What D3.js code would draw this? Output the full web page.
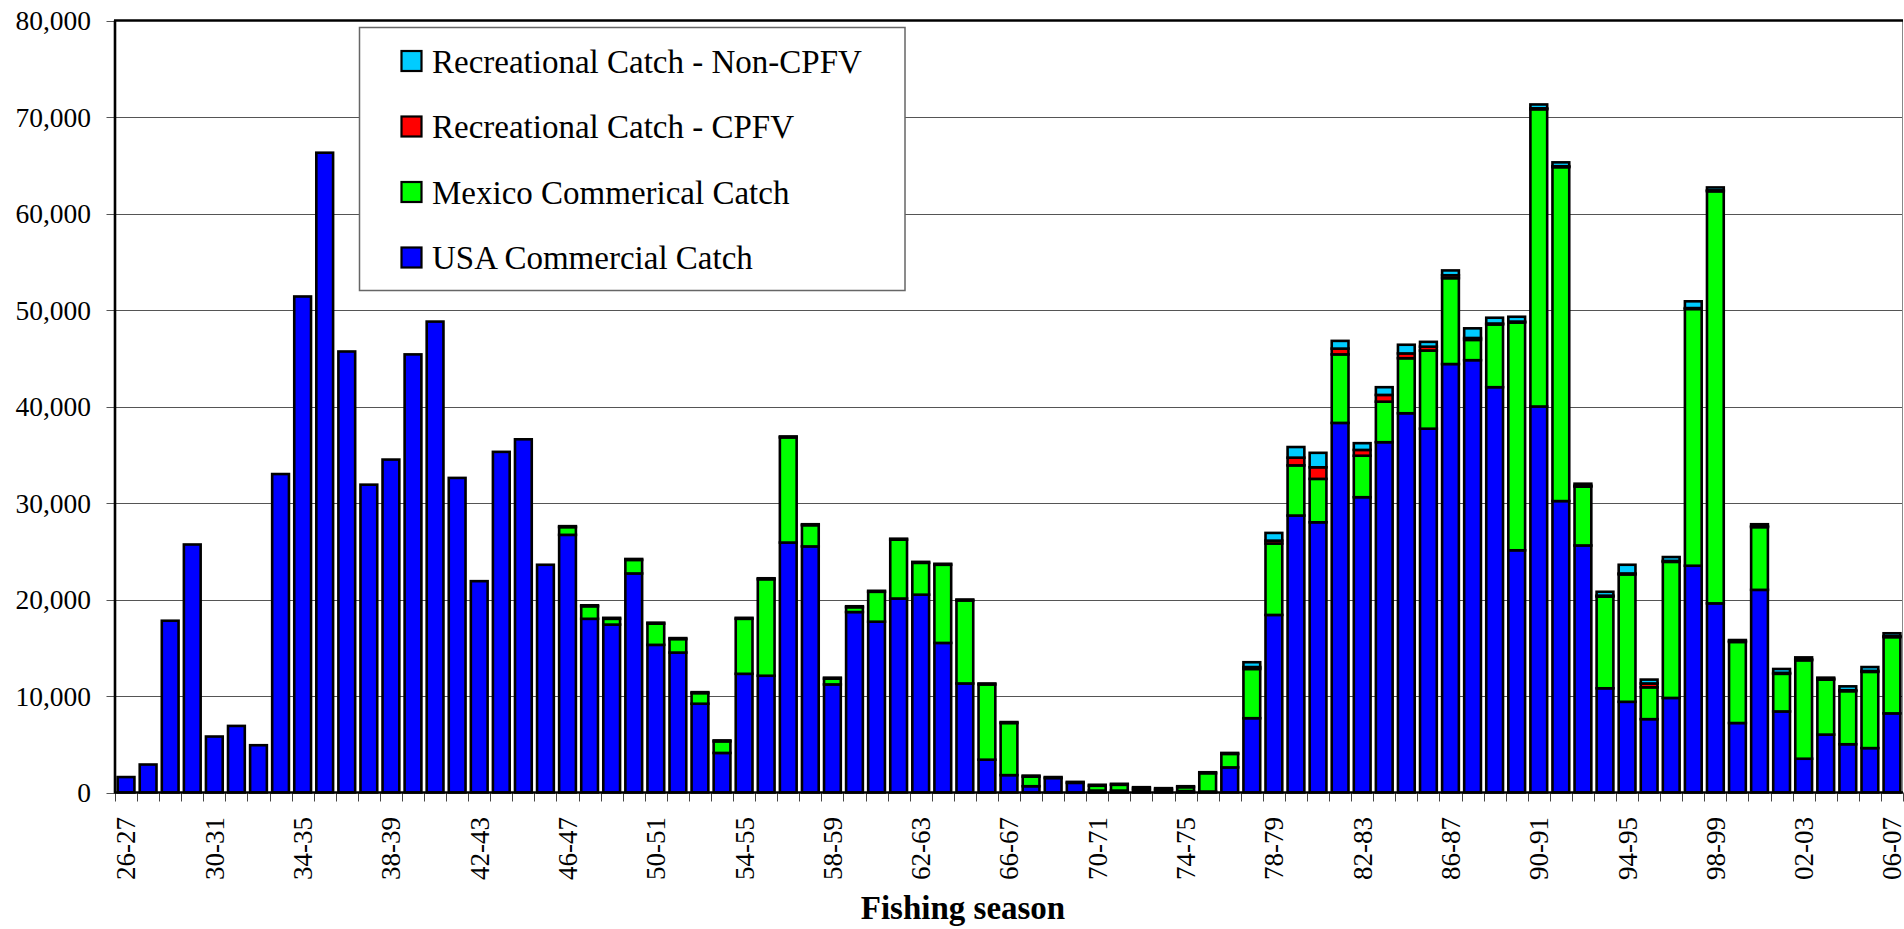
<!DOCTYPE html>
<html><head><meta charset="utf-8">
<script src="https://cdn.jsdelivr.net/npm/d3@7"></script>
</head><body style="margin:0">
<script>
// fishing seasons, 1926-27 to 2006-07
let seasons = ['26-27', '27-28', '28-29', '29-30', '30-31', '31-32', '32-33', '33-34', '34-35', '35-36',
    '36-37', '37-38', '38-39', '39-40', '40-41', '41-42', '42-43', '43-44', '44-45', '45-46',
    '46-47', '47-48', '48-49', '49-50', '50-51', '51-52', '52-53', '53-54', '54-55', '55-56',
    '56-57', '57-58', '58-59', '59-60', '60-61', '61-62', '62-63', '63-64', '64-65', '65-66',
    '66-67', '67-68', '68-69', '69-70', '70-71', '71-72', '72-73', '73-74', '74-75', '75-76',
    '76-77', '77-78', '78-79', '79-80', '80-81', '81-82', '82-83', '83-84', '84-85', '85-86',
    '86-87', '87-88', '88-89', '89-90', '90-91', '91-92', '92-93', '93-94', '94-95', '95-96',
    '96-97', '97-98', '98-99', '99-00', '00-01', '01-02', '02-03', '03-04', '04-05', '05-06', '06-07'];

let tickLabels = ['26-27', '30-31', '34-35', '38-39', '42-43', '46-47', '50-51', '54-55', '58-59', '62-63',
    '66-67', '70-71', '74-75', '78-79', '82-83', '86-87', '90-91', '94-95', '98-99', '02-03', '06-07'];

let yTicks = [0, 10000, 20000, 30000, 40000, 50000, 60000, 70000, 80000];

let usaCommercial = [1600, 2900, 17800, 25700, 5800, 6900, 4900, 33000, 51400, 66300,
    45700, 31900, 34500, 45400, 48800, 32600, 21900, 35300, 36600, 23600,
    26700, 18000, 17400, 22700, 15300, 14500, 9200, 4100, 12300, 12100,
    25900, 25500, 11200, 18700, 17700, 20100, 20500, 15500, 11300, 3400,
    1800, 650, 1500, 1000, 200, 200, 250, 200, 150, 100,
    2600, 7700, 18400, 28700, 28000, 38300, 30600, 36300, 39300, 37700,
    44400, 44800, 42000, 25100, 40000, 30200, 25600, 10800, 9400, 7600,
    9800, 23500, 19600, 7200, 21000, 8400, 3500, 6000, 5000, 4600, 8200];

let mexicoCommercial = [0, 0, 0, 0, 0, 0, 0, 0, 0, 0,
    0, 0, 0, 0, 0, 0, 0, 0, 0, 0,
    800, 1300, 600, 1400, 2200, 1400, 1100, 1200, 5700, 10000,
    10900, 2200, 600, 500, 3100, 6100, 3300, 8100, 8600, 7800,
    5400, 1000, 0, 0, 500, 600, 200, 150, 400, 1900,
    1400, 5100, 7400, 5200, 4500, 7100, 4300, 4200, 5700, 8100,
    8900, 2100, 6500, 23600, 30800, 34600, 6100, 9500, 13200, 3300,
    14100, 26600, 42700, 8400, 6500, 3900, 10200, 5700, 5500, 7900, 7900];

let recCPFV = [0, 0, 0, 0, 0, 0, 0, 0, 0, 0,
    0, 0, 0, 0, 0, 0, 0, 0, 0, 0,
    100, 100, 100, 100, 100, 100, 100, 100, 100, 100,
    100, 100, 100, 100, 100, 100, 100, 100, 100, 100,
    100, 100, 100, 100, 100, 100, 100, 100, 100, 100,
    100, 200, 300, 800, 1200, 600, 600, 700, 500, 400,
    300, 200, 100, 100, 100, 100, 100, 100, 100, 400,
    100, 100, 100, 100, 100, 100, 100, 100, 100, 100, 100];

let recNonCPFV = [0, 0, 0, 0, 0, 0, 0, 0, 0, 0,
    0, 0, 0, 0, 0, 0, 0, 0, 0, 0,
    0, 0, 0, 0, 0, 0, 0, 0, 0, 0,
    0, 0, 0, 0, 0, 0, 0, 0, 0, 0,
    0, 0, 0, 0, 0, 0, 0, 0, 0, 0,
    0, 500, 800, 1100, 1500, 800, 700, 800, 900, 500,
    500, 1000, 600, 500, 400, 400, 200, 400, 900, 400,
    400, 700, 300, 100, 200, 400, 200, 100, 400, 400, 300];

let keys = ['usa', 'mexico', 'cpfv', 'noncpfv'];
let legendKeys = ['noncpfv', 'cpfv', 'mexico', 'usa'];
let names = {
    noncpfv: 'Recreational Catch - Non-CPFV',
    cpfv: 'Recreational Catch - CPFV',
    mexico: 'Mexico Commerical Catch',
    usa: 'USA Commercial Catch'
};
let colors = {usa: '#0000ff', mexico: '#00ff00', cpfv: '#ff0000', noncpfv: '#00ccff'};

let plot = {left: 115, right: 1903, top: 20.5, bottom: 792.5};

let rows = seasons.map((s, i) => ({
    season: s,
    usa: usaCommercial[i],
    mexico: mexicoCommercial[i],
    cpfv: recCPFV[i],
    noncpfv: recNonCPFV[i]
}));

let svg = d3.select('body').append('svg').attr('width', 1904).attr('height', 929);

let x = d3.scaleBand()
    .domain(seasons)
    .range([plot.left, plot.right])
    .paddingInner(0.24)
    .paddingOuter(0.12);

let y = d3.scaleLinear()
    .domain([0, 80000])
    .range([plot.bottom, plot.top]);

// gridlines
svg.selectAll('.grid')
    .data(yTicks.filter(v => v > 0 && v < 80000))
    .enter()
    .append('line')
    .attr('x1', plot.left)
    .attr('x2', plot.right)
    .attr('y1', d => Math.round(y(d)) + 0.5)
    .attr('y2', d => Math.round(y(d)) + 0.5)
    .attr('stroke', '#555')
    .attr('stroke-width', 1);

// right border
svg.append('line')
    .attr('x1', plot.right - 0.5).attr('x2', plot.right - 0.5)
    .attr('y1', plot.top).attr('y2', plot.bottom)
    .attr('stroke', '#888');

// y axis ticks
svg.selectAll('.ytick')
    .data(yTicks)
    .enter()
    .append('line')
    .attr('x1', 106.5).attr('x2', plot.left)
    .attr('y1', d => Math.round(y(d)) + 0.5)
    .attr('y2', d => Math.round(y(d)) + 0.5)
    .attr('stroke', '#555');

// x ticks at category boundaries
let step = x.step();
svg.selectAll('.xtick')
    .data(d3.range(seasons.length + 1))
    .enter()
    .append('line')
    .attr('x1', i => Math.round(plot.left + i * step) + 0.5)
    .attr('x2', i => Math.round(plot.left + i * step) + 0.5)
    .attr('y1', plot.bottom)
    .attr('y2', 801.5)
    .attr('stroke', '#444');

// stacked bars
let series = d3.stack().keys(keys)(rows);

svg.selectAll('.series')
    .data(series)
    .enter()
    .append('g')
    .attr('fill', d => colors[d.key])
    .selectAll('rect')
    .data(d => d.filter(e => e[1] - e[0] > 0))
    .enter()
    .append('rect')
    .attr('x', d => x(d.data.season))
    .attr('width', x.bandwidth())
    .attr('y', d => y(d[1]))
    .attr('height', d => y(d[0]) - y(d[1]))
    .attr('stroke', '#000')
    .attr('stroke-width', 2.6);

// frame: top, left, bottom
svg.append('line')
    .attr('x1', plot.left - 1).attr('x2', plot.right)
    .attr('y1', plot.top).attr('y2', plot.top)
    .attr('stroke', '#000').attr('stroke-width', 2.6);
svg.append('line')
    .attr('x1', plot.left).attr('x2', plot.left)
    .attr('y1', plot.top).attr('y2', plot.bottom + 1)
    .attr('stroke', '#000').attr('stroke-width', 2.6);
svg.append('line')
    .attr('x1', plot.left).attr('x2', plot.right)
    .attr('y1', plot.bottom).attr('y2', plot.bottom)
    .attr('stroke', '#000').attr('stroke-width', 2.6);

// legend box + swatches
svg.append('rect')
    .attr('x', 359.5).attr('y', 27.5)
    .attr('width', 545.5).attr('height', 263)
    .attr('fill', '#fff')
    .attr('stroke', '#666')
    .attr('stroke-width', 1.5);

svg.selectAll('.swatch')
    .data(legendKeys)
    .enter()
    .append('rect')
    .attr('x', 401.5)
    .attr('y', (k, i) => 51 + i * 65.5)
    .attr('width', 20).attr('height', 20)
    .attr('fill', k => colors[k])
    .attr('stroke', '#000')
    .attr('stroke-width', 2.2);

// all texts
svg.selectAll('.ylabel')
    .data(yTicks)
    .enter()
    .append('text')
    .style('font-family', '"Liberation Serif"')
    .style('font-size', '27.5px')
    .attr('x', 91)
    .attr('y', d => y(d))
    .attr('dy', '0.35em')
    .attr('text-anchor', 'end')
    .text(d => d3.format(',')(d));

svg.selectAll('.xlabel')
    .data(tickLabels)
    .enter()
    .append('text')
    .style('font-family', '"Liberation Serif"')
    .style('font-size', '27px')
    .attr('transform', d => 'translate(' + (x(d) + x.bandwidth() / 2) + ',817) rotate(-90)')
    .attr('dy', '0.35em')
    .attr('text-anchor', 'end')
    .text(d => d);

svg.append('text')
    .style('font-family', '"Liberation Serif"')
    .style('font-size', '33px')
    .style('font-weight', 'bold')
    .attr('x', 963)
    .attr('y', 919)
    .attr('text-anchor', 'middle')
    .text('Fishing season');

svg.selectAll('.legendtext')
    .data(legendKeys)
    .enter()
    .append('text')
    .style('font-family', '"Liberation Serif"')
    .style('font-size', '33px')
    .attr('x', 432)
    .attr('y', (k, i) => 72.5 + i * 65.5)
    .text(k => names[k]);
</script>
</body></html>
